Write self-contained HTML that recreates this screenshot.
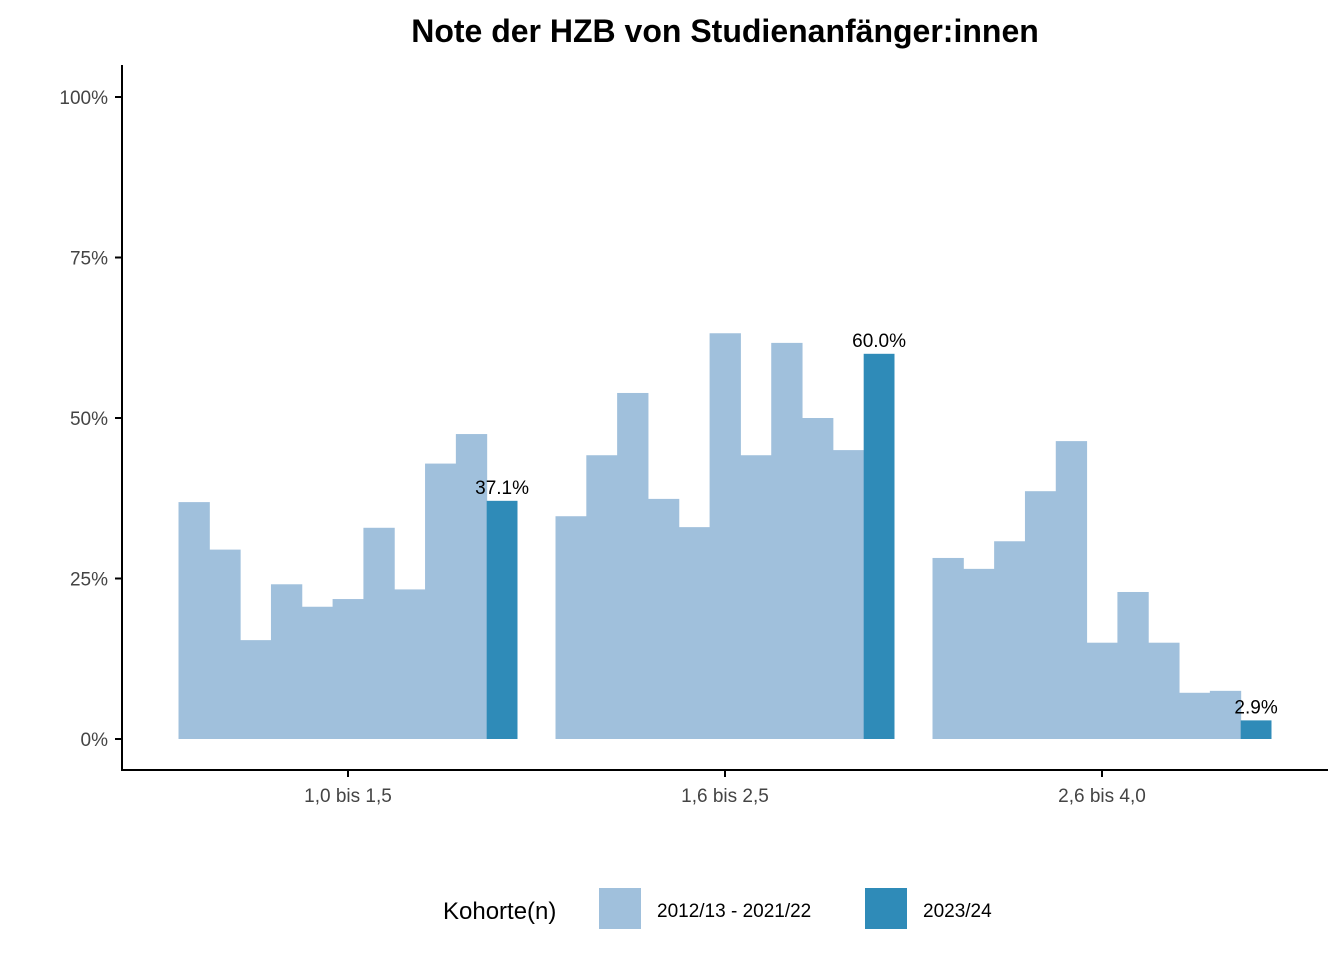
<!DOCTYPE html>
<html><head><meta charset="utf-8"><style>
body{margin:0;background:#fff;}
svg text{font-family:"Liberation Sans",Arial,sans-serif;}
</style></head><body>
<svg id="chart" width="1344" height="960" xmlns="http://www.w3.org/2000/svg">
<text x="725" y="42" text-anchor="middle" font-size="32" font-weight="bold" fill="#000">Note der HZB von Studienanfänger:innen</text>
<g id="yaxis"></g>
<g id="bars"></g>
<g id="xaxis"></g>
<line x1="122" y1="65" x2="122" y2="771" stroke="#000" stroke-width="2"/>
<line x1="121" y1="770" x2="1328" y2="770" stroke="#000" stroke-width="2"/>
<g>
<text x="443" y="919" font-size="24" fill="#000">Kohorte(n)</text>
<rect x="599" y="888" width="42" height="41" fill="#a0c0dc"/>
<text x="657" y="917" font-size="19" fill="#000">2012/13 - 2021/22</text>
<rect x="865" y="888" width="42" height="41" fill="#2f8bb8"/>
<text x="923" y="917" font-size="19" fill="#000">2023/24</text>
</g>
</svg>
<script>
const categories = ["1,0 bis 1,5","1,6 bis 2,5","2,6 bis 4,0"];
const historyValues = [
 [36.9,29.5,15.4,24.1,20.6,21.8,32.9,23.3,42.9,47.5],
 [34.7,44.2,53.9,37.4,33.0,63.2,44.2,61.7,50.0,45.0],
 [28.2,26.5,30.8,38.6,46.4,15.0,22.9,15.0,7.2,7.5]
];
const currentValues = [37.1,60.0,2.9];
const yTicks = [0,25,50,75,100];
const yTickLabels = ["0%","25%","50%","75%","100%"];

const NS="http://www.w3.org/2000/svg";
const y0=739, y100=97;
function yScale(v){return y0-(y0-y100)*v/100;}
const groupCenter0=348, groupStep=377, groupWidth=339;
function xCenter(i){return groupCenter0+i*groupStep;}
const yax=document.getElementById('yaxis'), bars=document.getElementById('bars'), xax=document.getElementById('xaxis');
function mk(tag,attrs,parent){const e=document.createElementNS(NS,tag);for(const k in attrs)e.setAttribute(k,attrs[k]);parent.appendChild(e);return e;}
yTicks.forEach((t,i)=>{
 const y=yScale(t);
 const l=mk('line',{x1:115,x2:122,y1:y,y2:y,stroke:'#000','stroke-width':2},yax);
 
 
 const tx=mk('text',{x:108,y:y+7,'text-anchor':'end','font-size':19,fill:'#444'},yax);
 tx.textContent=yTickLabels[i];
 
 
});
categories.forEach((c,g)=>{
 const cx=xCenter(g);
 const n=historyValues[g].length+1;
 const bw=groupWidth/n;
 const left=cx-groupWidth/2;
 historyValues[g].forEach((v,i)=>{
  const r=mk('rect',{x:left+i*bw,y:yScale(v),width:bw+0.5,height:y0-yScale(v),fill:'#a0c0dc'},bars);
  
  
 });
 const v=currentValues[g];
 const bx=left+(n-1)*bw;
 const r=mk('rect',{x:bx,y:yScale(v),width:bw,height:y0-yScale(v),fill:'#2f8bb8'},bars);
 
 
 const lb=mk('text',{x:bx+bw/2,y:yScale(v)-7,'text-anchor':'middle','font-size':19,fill:'#000'},bars);
 lb.textContent=v.toFixed(1)+'%';
 
 
 const tk=mk('line',{x1:cx,x2:cx,y1:770,y2:777,stroke:'#000','stroke-width':2},xax);
 
 
 const tl=mk('text',{x:cx,y:802,'text-anchor':'middle','font-size':19,fill:'#444'},xax);
 tl.textContent=c;
 
 
});
</script>
</body></html>
